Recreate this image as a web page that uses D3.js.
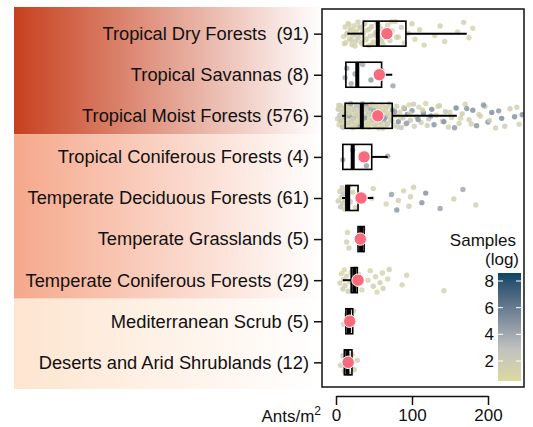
<!DOCTYPE html>
<html>
<head>
<meta charset="utf-8">
<script src="https://cdn.jsdelivr.net/npm/d3@7"></script>
<style>
  body { margin: 0; background: #fff; }
  text { font-family: "Liberation Sans", Arial, sans-serif; fill: #111; }
</style>
</head>
<body>
<svg id="chart" width="533" height="427"></svg>
<script>
// ---- data ----
const biomes = [
  "Tropical Dry Forests  (91)",
  "Tropical Savannas (8)",
  "Tropical Moist Forests (576)",
  "Tropical Coniferous Forests (4)",
  "Temperate Deciduous Forests (61)",
  "Temperate Grasslands (5)",
  "Temperate Coniferous Forests (29)",
  "Mediterranean Scrub (5)",
  "Deserts and Arid Shrublands (12)"
];
// biome groups shaded on the left (first and last row index of each)
const groupStart = [0, 3, 7];
const groupEnd = [2, 6, 8];

// box plot stats (ants/m2)
const lowWhisker = [15, 13, 8, 9, 8, 29, 9, 13, 11];
const q1 = [36, 13, 12, 9, 13, 29, 20, 13, 11];
const median = [55, 28, 34, 22, 16, 33, 24, 17, 15];
const q3 = [92, 60, 74, 47, 29, 37, 28, 22, 21];
const highWhisker = [172, 74, 159, 68, 49, 37, 32, 22, 21];
const means = [67, 57, 55, 37, 33, 32, 29, 18, 16];

// site points: [ants/m2, log(samples)]
const dryPts = [[10,1.2],[12,1.5],[13,1.0],[15,1.8],[16,1.3],[18,1.1],[19,2.0],[21,1.4],[22,1.6],[24,1.2],[26,1.9],[27,1.0],[29,1.5],[30,2.2],[32,1.3],[34,1.7],[36,1.1],[37,1.4],[39,2.0],[41,1.2],[43,1.6],[45,1.3],[47,1.8],[49,1.0],[52,1.5],[54,1.2],[57,2.1],[59,1.4],[62,1.0],[65,1.7],[68,1.3],[71,1.9],[74,1.1],[78,1.5],[82,1.2],[86,1.6],[90,1.4],[95,1.0],[100,1.8],[104,1.2],[110,1.5],[116,1.3],[130,1.1],[137,1.6],[143,1.4],[160,1.2],[168,1.7],[175,1.0],[180,1.3],
  [11,1.3],[14,1.6],[17,1.2],[20,1.8],[23,1.1],[25,1.5],[28,1.3],[31,1.9],[33,1.2],[35,1.4],[38,1.7],[40,1.0],[44,1.5],[48,1.3],[51,1.8],[56,1.1],[60,1.6],[67,1.4],[73,1.2],[80,1.7]];
const savPts = [[12,4.0],[14,4.5],[20,3.8],[25,4.2],[35,4.0],[46,4.8],[60,3.5],[75,4.4]];
const moistPts = [[2,1.5],[3,2.5],[4,1.2],[5,3.0],[6,1.8],[7,2.2],[8,1.0],[9,4.5],[10,1.6],[11,2.0],[12,1.3],[13,3.5],[14,1.9],[15,1.1],[16,2.8],[17,1.4],[18,5.0],[19,1.7],[20,2.3],[21,1.2],[22,1.6],[23,4.0],[24,1.0],[25,2.0],[26,1.5],[27,3.2],[28,1.3],[29,1.8],[30,5.0],[31,1.2],[32,2.1],[33,1.6],[34,1.0],[35,3.8],[36,1.4],[37,2.5],[38,1.1],[39,1.9],[40,5.2],[41,1.3],[42,2.2],[43,1.7],[44,1.0],[45,4.2],[46,1.5],[47,2.0],[48,1.2],[49,3.0],[50,1.8],[51,1.1],[52,5.0],[53,1.6],[54,2.4],[55,1.3],[56,1.0],[57,3.5],[58,1.9],[59,1.4],[60,5.4],[61,1.2],[62,2.0],[63,1.7],[64,1.1],[65,4.5],[66,1.5],[67,2.3],[68,1.0],[70,3.0],[72,1.6],[74,5.0],[76,1.3],[78,2.0],[80,1.5],[82,5.2],[84,1.2],[86,2.5],[88,1.8],[90,4.8],[92,1.4],[94,5.4],[96,1.1],[98,2.2],[100,5.0],[103,1.6],[106,2.0],[109,1.3],[112,1.8],[115,5.3],[118,1.2],[122,2.4],[126,5.3],[129,5.0],[132,1.5],[136,1.9],[140,1.3],[144,2.6],[148,1.7],[152,1.2],[158,5.5],[162,1.5],[166,2.0],[170,1.4],[175,1.8],[180,5.2],[185,5.0],[190,1.3],[196,2.2],[200,5.2],[205,5.3],[210,1.6],[218,5.4],[229,1.9],[241,1.4],[245,5.2],
  [3.5,1.4],[5.5,2.0],[7.5,1.3],[9.5,1.7],[11.5,3.0],[13.5,1.2],[15.5,1.8],[17.5,1.1],[19.5,4.2],[21.5,1.5],[23.5,1.9],[25.5,1.2],[27.5,1.6],[29.5,2.4],[31.5,1.3],[33.5,1.8],[35.5,1.0],[37.5,4.6],[39.5,1.5],[41.5,1.2],[43.5,2.0],[45.5,1.4],[47.5,1.7],[49.5,4.0],[51.5,1.3],[53.5,1.9],[55.5,1.1],[57.5,1.6],[59.5,2.2],[61.5,1.4],[63.5,4.4],[65.5,1.2],[67.5,1.8],[69.5,1.5],[71.5,1.1],[73.5,2.0],[77,4.8],[81,1.6],[85,1.3],[89,1.9],[93,4.6],[97,1.4],[102,2.1],[108,5.0],[114,1.5],[120,1.8],[125,4.9],[134,1.2],[142,5.1],[150,1.6],[156,4.8],[164,1.3],[172,5.0],[178,1.7],[188,1.5],[194,4.9],[202,1.4],[214,5.0],[222,1.8],[235,5.1],[238,1.5]];
const tcfPts = [[9,4.2],[22,4.0],[40,4.5],[68,4.3]];
const tdfPts = [[3,2.0],[5,1.5],[6,2.8],[7,1.2],[8,2.2],[9,1.8],[10,3.0],[11,1.4],[12,2.5],[13,1.6],[14,1.0],[15,2.0],[17,1.3],[19,1.8],[22,1.5],[26,1.2],[47,1.8],[49,1.5],[66,1.3],[73,4.5],[80,5.0],[82,1.6],[89,1.4],[96,1.8],[98,1.5],[102,1.7],[113,5.0],[118,5.2],[137,4.5],[155,1.6],[167,4.2],[184,1.5]];
const tgPts = [[14,1.5],[15,1.3],[17,1.6],[32,1.4],[36,1.5]];
const tconPts = [[5,1.5],[7,1.2],[9,1.8],[10,1.4],[11,1.0],[12,1.6],[14,1.3],[16,1.9],[18,1.1],[20,1.5],[22,1.2],[24,1.7],[26,1.4],[28,1.0],[30,1.6],[34,1.3],[42,1.5],[45,1.2],[49,1.8],[52,1.4],[54,1.1],[58,1.6],[61,1.3],[62,1.5],[68,1.2],[70,1.7],[87,1.4],[93,1.3],[142,1.5]];
const medPts = [[10,1.6],[14,1.4],[17,1.8],[20,1.5],[23,1.3]];
const desPts = [[6,1.8],[9,2.2],[11,1.5],[12,2.5],[13,1.6],[14,2.0],[15,1.4],[17,2.3],[19,1.7],[21,1.5],[24,1.9],[28,1.6]];
const allPts = [dryPts, savPts, moistPts, tcfPts, tdfPts, tgPts, tconPts, medPts, desPts];

const xTicks = [0, 100, 200];
const legendTicks = [2, 4, 6, 8];

// ---- layout ----
const panel = { left: 322, right: 524, top: 9, bottom: 387 };
const bandColors = ["#c7401e", "#f5a88b", "#fde5d0"];

const svg = d3.select("#chart");

const x = d3.scaleLinear().domain([0, 200]).range([336, 488]);
const y = d3.scalePoint().domain(biomes).range([panel.top, panel.bottom]).padding(0.6);
const step = y.step();

const color = d3.scaleLinear()
  .domain([0.5, 3, 8.6])
  .range(["#dcdaa0", "#bfc0c0", "#0c4566"])
  .interpolate(d3.interpolateLab);

const defs = svg.append("defs");
bandColors.forEach((c, i) => {
  const g = defs.append("linearGradient").attr("id", "band" + i)
    .attr("x1", "0%").attr("x2", "100%").attr("y1", "0%").attr("y2", "0%");
  g.append("stop").attr("offset", "0%").attr("stop-color", c);
  g.append("stop").attr("offset", "100%").attr("stop-color", "#fff");
});
defs.append("clipPath").attr("id", "clip")
  .append("rect")
  .attr("x", panel.left).attr("y", panel.top)
  .attr("width", panel.right - panel.left).attr("height", panel.bottom - panel.top);

// left-hand shaded groups
groupStart.forEach((s, i) => {
  const top = i === 0 ? panel.top - 2 : y(biomes[s]) - step * 0.55;
  const bot = i === groupStart.length - 1 ? panel.bottom + 2 : y(biomes[groupEnd[i]]) + step * 0.45;
  svg.append("rect")
    .attr("x", 14).attr("y", top)
    .attr("width", panel.left - 14).attr("height", bot - top)
    .attr("fill", `url(#band${i})`);
});

// y axis
const yAxis = svg.append("g")
  .attr("transform", `translate(${panel.left},0)`)
  .call(d3.axisLeft(y).tickSize(8).tickPadding(5));
yAxis.select(".domain").remove();
yAxis.selectAll(".tick line").attr("stroke", "#111").attr("stroke-width", 1.5);
yAxis.selectAll(".tick text")
  .style("font-size", "18.3px")
  .style("white-space", "pre")
  .attr("fill", "#111");

// panel
svg.append("rect")
  .attr("x", panel.left).attr("y", panel.top)
  .attr("width", panel.right - panel.left).attr("height", panel.bottom - panel.top)
  .attr("fill", "#fff");

const plot = svg.append("g").attr("clip-path", "url(#clip)");
const boxH = 25;

// box fills
plot.selectAll("rect.boxfill").data(biomes).join("rect")
  .attr("class", "boxfill")
  .attr("x", (d, i) => x(q1[i]))
  .attr("y", d => y(d) - boxH / 2)
  .attr("width", (d, i) => x(q3[i]) - x(q1[i]))
  .attr("height", boxH)
  .attr("fill", "#fff");

// jittered points
biomes.forEach((b, i) => {
  plot.append("g").selectAll("circle").data(allPts[i]).join("circle")
    .attr("cx", d => x(d[0]))
    .attr("cy", (d, j) => y(b) + (((j + 1) * 0.6180339887) % 1 - 0.5) * 25)
    .attr("r", 2.7)
    .attr("fill", d => color(d[1]))
    .attr("fill-opacity", 0.8);
});

// whiskers
plot.selectAll("line.wl").data(biomes).join("line")
  .attr("x1", (d, i) => x(lowWhisker[i])).attr("x2", (d, i) => x(q1[i]))
  .attr("y1", d => y(d)).attr("y2", d => y(d))
  .attr("stroke", "#000").attr("stroke-width", 2);
plot.selectAll("line.wh").data(biomes).join("line")
  .attr("x1", (d, i) => x(q3[i])).attr("x2", (d, i) => x(highWhisker[i]))
  .attr("y1", d => y(d)).attr("y2", d => y(d))
  .attr("stroke", "#000").attr("stroke-width", 2);

// box outlines
plot.selectAll("rect.box").data(biomes).join("rect")
  .attr("class", "box")
  .attr("x", (d, i) => x(q1[i]))
  .attr("y", d => y(d) - boxH / 2)
  .attr("width", (d, i) => x(q3[i]) - x(q1[i]))
  .attr("height", boxH)
  .attr("fill", "none")
  .attr("stroke", "#000").attr("stroke-width", 1.6);

// medians
plot.selectAll("line.med").data(biomes).join("line")
  .attr("x1", (d, i) => x(median[i])).attr("x2", (d, i) => x(median[i]))
  .attr("y1", d => y(d) - boxH / 2).attr("y2", d => y(d) + boxH / 2)
  .attr("stroke", "#000").attr("stroke-width", 4);

// means
plot.selectAll("circle.mean").data(biomes).join("circle")
  .attr("class", "mean")
  .attr("cx", (d, i) => x(means[i]))
  .attr("cy", d => y(d))
  .attr("r", 6.2)
  .attr("fill", "#fb6a7c")
  .attr("stroke", "#fff").attr("stroke-width", 1);

// panel border
svg.append("rect")
  .attr("x", panel.left).attr("y", panel.top)
  .attr("width", panel.right - panel.left).attr("height", panel.bottom - panel.top)
  .attr("fill", "none").attr("stroke", "#111").attr("stroke-width", 1.5);

// x axis
const xAxis = svg.append("g")
  .attr("transform", "translate(0,396)")
  .call(d3.axisBottom(x).tickValues(xTicks).tickSize(9).tickSizeOuter(0).tickPadding(4));
xAxis.select(".domain").attr("stroke", "#111").attr("stroke-width", 1.5);
xAxis.selectAll(".tick line").attr("stroke", "#111").attr("stroke-width", 1.5);
xAxis.selectAll(".tick text").style("font-size", "17px").attr("fill", "#111");

const xl = svg.append("text")
  .attr("x", 321).attr("y", 422)
  .attr("text-anchor", "end")
  .style("font-size", "17px");
xl.append("tspan").text("Ants/m");
xl.append("tspan").text("2").attr("dy", -7).style("font-size", "12px");

// legend
const lg = { x: 498, w: 23, top: 273, bottom: 381 };
const ly = d3.scaleLinear().domain([0.5, 8.6]).range([lg.bottom, lg.top]);
const lgrad = defs.append("linearGradient").attr("id", "lgrad")
  .attr("x1", "0%").attr("x2", "0%").attr("y1", "100%").attr("y2", "0%");
d3.range(0, 11).forEach(k => {
  const v = 0.5 + (8.6 - 0.5) * k / 10;
  lgrad.append("stop").attr("offset", `${k * 10}%`).attr("stop-color", color(v));
});
svg.append("rect")
  .attr("x", lg.x).attr("y", lg.top)
  .attr("width", lg.w).attr("height", lg.bottom - lg.top)
  .attr("fill", "url(#lgrad)");
legendTicks.forEach(t => {
  svg.append("line").attr("x1", lg.x).attr("x2", lg.x + 5)
    .attr("y1", ly(t)).attr("y2", ly(t)).attr("stroke", "#fff");
  svg.append("line").attr("x1", lg.x + lg.w - 5).attr("x2", lg.x + lg.w)
    .attr("y1", ly(t)).attr("y2", ly(t)).attr("stroke", "#fff");
  svg.append("text").attr("x", lg.x - 4).attr("y", ly(t)).attr("dy", "0.36em")
    .attr("text-anchor", "end").style("font-size", "17px").text(t);
});
svg.append("text").attr("x", 516).attr("y", 246)
  .attr("text-anchor", "end").style("font-size", "17px").text("Samples");
svg.append("text").attr("x", 519).attr("y", 265)
  .attr("text-anchor", "end").style("font-size", "17px").text("(log)");
</script>
</body>
</html>
